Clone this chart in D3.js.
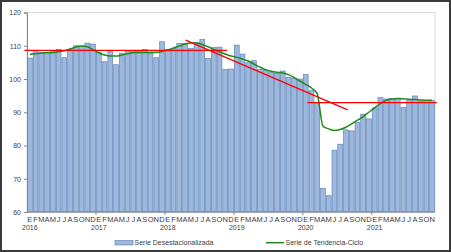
<!DOCTYPE html>
<html><head><meta charset="utf-8">
<script src="https://cdn.jsdelivr.net/npm/d3@7"></script>
<style>
html,body{margin:0;padding:0;background:#fff;}
svg{display:block;font-family:"Liberation Sans",Arial,sans-serif;}
</style></head>
<body>
<svg id="c" width="451" height="252"></svg>
<script>
// ---- data ----
const years = ["2016","2017","2018","2019","2020","2021"];
const monthLetters = ["E","F","M","A","M","J","J","A","S","O","N","D"];
const nMonths = 71; // Jan 2016 .. Nov 2021
const desest = [
  106.3,108.3,108.0,108.0,108.2,108.9,106.4,108.8,110.0,109.9,110.8,110.5,
  108.0,105.2,108.3,104.3,107.7,108.4,108.3,108.4,108.9,107.6,106.4,111.2,
  108.9,109.2,110.7,110.7,109.2,110.9,111.9,106.2,109.5,109.6,102.9,103.0,
  110.2,107.5,104.9,105.5,102.9,102.5,101.9,101.7,102.4,100.5,100.3,100.0,
  101.3,96.5,93.0,67.1,64.9,78.6,80.4,84.7,84.4,87.0,89.4,88.0,
  91.3,94.4,94.0,94.2,94.2,91.4,93.5,94.9,93.4,93.5,93.5
];
const tendencia = [
  107.4,107.6,107.8,107.9,108.0,108.2,108.5,109.0,109.6,109.9,109.7,108.8,
  107.9,107.2,106.9,106.9,107.2,107.6,107.9,108.0,108.0,108.0,108.0,108.3,
  108.7,109.3,109.9,110.5,110.8,110.8,110.4,109.7,108.9,108.2,107.5,106.9,
  106.5,106.0,105.4,104.5,103.6,102.8,102.3,102.0,101.8,101.3,100.4,99.4,
  98.4,97.3,95.6,85.8,85.0,84.5,84.8,85.5,86.5,87.6,88.7,90.0,
  91.3,92.6,93.6,94.0,94.1,94.0,93.9,93.8,93.7,93.6,93.6
];
// red reference lines: [monthIndex, value] pairs
const refLine1 = [[-0.95,108.6],[34.3,108.6]];
const refLine2 = [[27.1,111.7],[55.3,90.7]];
const refLine3 = [[48.3,92.9],[70.8,92.9]];
const yTicks = [60,70,80,90,100,110,120];
const legendLabels = ["Serie Desestacionalizada","Serie de Tendencia-Ciclo"];

// ---- drawing ----
const svg = d3.select("#c");
const L = 27, R = 435, T = 12.5, B = 212;
const idx = d3.range(nMonths);
const x = d3.scaleBand().domain(idx).range([L,R]).paddingInner(0.15).paddingOuter(0.07);
const xc = d3.scaleLinear().domain([-0.5, nMonths-0.5]).range([L,R]);
const y = d3.scaleLinear().domain([60,120]).range([B,T]);

// outer frame
svg.append("rect").attr("x",1).attr("y",1).attr("width",449).attr("height",250)
  .attr("fill","#fff").attr("stroke","#3a3a3a").attr("stroke-width",2);

// plot area border
svg.append("rect").attr("x",L).attr("y",T).attr("width",R-L).attr("height",B-T)
  .attr("fill","none").attr("stroke","#d9d9d9").attr("stroke-width",1);

// bars
svg.append("g").selectAll("rect").data(desest).join("rect")
  .attr("x",(d,i)=>x(i)).attr("width",x.bandwidth())
  .attr("y",d=>y(d)).attr("height",d=>y(60)-y(d))
  .attr("fill","#9cb8de").attr("stroke","#5a7bab").attr("stroke-width",0.6);

// y axis
const ya = svg.append("g").attr("transform",`translate(${L},0)`)
  .call(d3.axisLeft(y).tickValues(yTicks).tickSize(3).tickPadding(3));
ya.select(".domain").attr("stroke","#868686");
ya.selectAll(".tick line").attr("stroke","#868686");
ya.selectAll("text").attr("font-size","7px").attr("fill","#404040").attr("font-family","Liberation Sans, Arial, sans-serif");

// x axis
svg.append("line").attr("x1",L).attr("x2",R).attr("y1",B).attr("y2",B).attr("stroke","#868686");
const yearStarts = years.map((yr,k)=>k*12);
svg.append("g").selectAll("line").data(yearStarts.slice(1)).join("line")
  .attr("x1",d=>xc(d-0.5)).attr("x2",d=>xc(d-0.5)).attr("y1",B).attr("y2",B+3)
  .attr("stroke","#868686");
svg.append("g").selectAll("text").data(idx).join("text")
  .attr("x",i=>xc(i)).attr("y",B+10).attr("text-anchor","middle")
  .attr("font-size","7.5px").attr("fill","#404040")
  .text(i=>monthLetters[i%12]);
svg.append("g").selectAll("text").data(years).join("text")
  .attr("x",(d,k)=>xc(k*12)).attr("y",B+18).attr("text-anchor","middle")
  .attr("font-size","7px").attr("fill","#404040").text(d=>d);

// trend line
const line = d3.line().x((d,i)=>xc(i)).y(d=>y(d)).curve(d3.curveMonotoneX);
svg.append("path").datum(tendencia).attr("d",line)
  .attr("fill","none").attr("stroke","#1e8a1e").attr("stroke-width",1.5);

// red reference lines
const rl = d3.line().x(d=>xc(d[0])).y(d=>y(d[1]));
[refLine1,refLine2,refLine3].forEach(p=>{
  svg.append("path").datum(p).attr("d",rl).attr("fill","none")
    .attr("stroke","#ff0000").attr("stroke-width",1.4);
});

// legend
const lg = svg.append("g");
lg.append("rect").attr("x",115).attr("y",240.5).attr("width",18).attr("height",4.5)
  .attr("fill","#9cb8de").attr("stroke","#5a7bab").attr("stroke-width",0.6);
lg.append("text").attr("x",134.5).attr("y",245.3).attr("font-size","7px").attr("fill","#404040").text(legendLabels[0]);
lg.append("line").attr("x1",266).attr("x2",284).attr("y1",242.7).attr("y2",242.7)
  .attr("stroke","#1e8a1e").attr("stroke-width",1.5);
lg.append("text").attr("x",285.5).attr("y",245.3).attr("font-size","7px").attr("fill","#404040").text(legendLabels[1]);
</script>
</body></html>
